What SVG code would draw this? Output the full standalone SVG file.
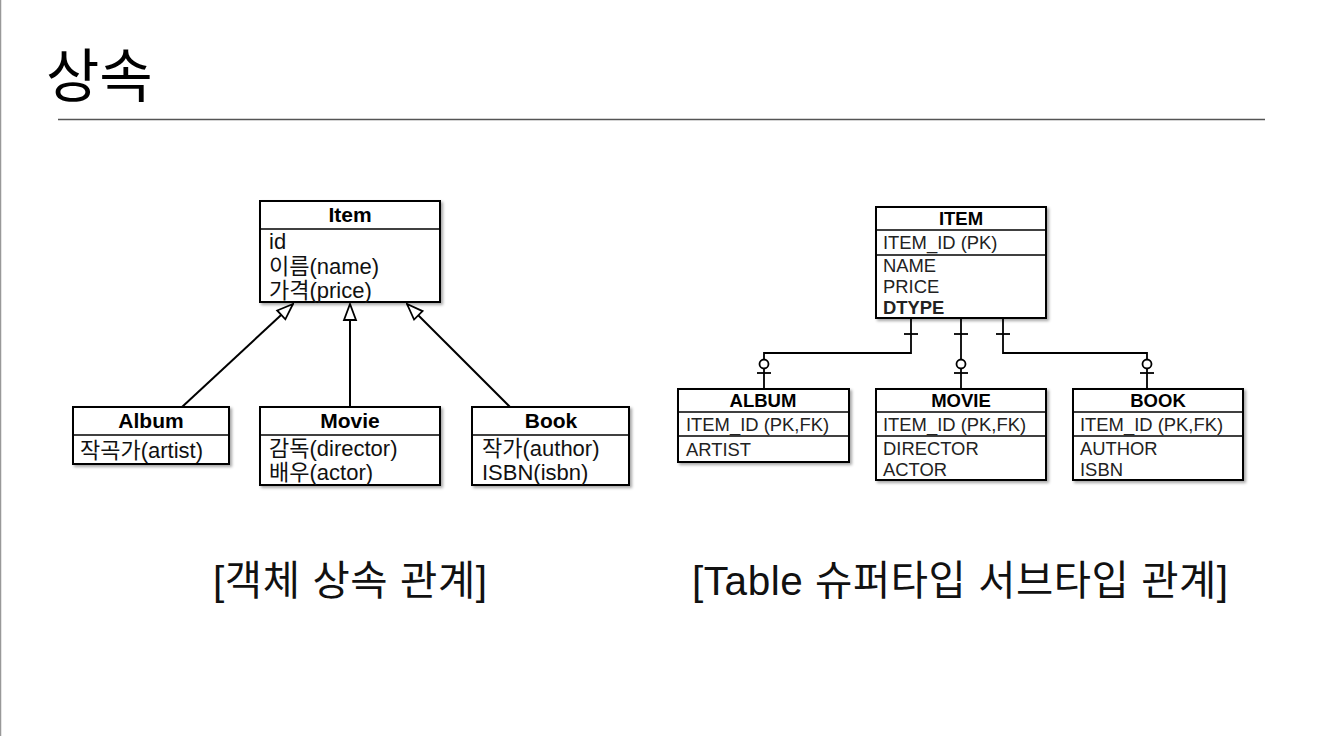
<svg xmlns="http://www.w3.org/2000/svg" width="1321" height="741" viewBox="0 0 1321 741">
<defs>
<style>
.box{fill:#fff;stroke:#000;stroke-width:2}
.div{stroke:#000;stroke-width:1.5}
.t{font-family:"Liberation Sans","Noto Sans CJK KR",sans-serif;fill:#000}
.h{font-size:21px;font-weight:bold;text-anchor:middle}
.a{font-size:22px;fill:#111}
.eh{font-size:18.5px;font-weight:bold;text-anchor:middle}
.ea{font-size:18.4px;fill:#222}
.ln{stroke:#000;stroke-width:2;fill:none}
.cap{font-family:"Liberation Sans","Noto Sans CJK KR",sans-serif;font-size:40.5px;fill:#111}
</style>
<filter id="sh" x="-10%" y="-10%" width="130%" height="130%">
<feDropShadow dx="2" dy="2" stdDeviation="1.5" flood-color="#000" flood-opacity="0.35"/>
</filter>
<marker id="tri" viewBox="0 0 20 20" refX="19" refY="10" markerWidth="20" markerHeight="20" markerUnits="userSpaceOnUse" orient="auto">
<path d="M19,10 L3,4 L3,16 Z" fill="#fff" stroke="#000" stroke-width="1.8"/>
</marker>
</defs>
<rect width="1321" height="741" fill="#fff"/>
<line x1="0.5" y1="0" x2="0.5" y2="736" stroke="#999" stroke-width="1.5"/>
<text x="46" y="97" font-family="'Noto Sans CJK KR',sans-serif" font-size="58" fill="#000">상속</text>
<line x1="58" y1="119.5" x2="1265" y2="119.5" stroke="#555" stroke-width="1.5"/>

<g id="connectors">
<line class="ln" x1="182" y1="407" x2="293" y2="304" marker-end="url(#tri)"/>
<line class="ln" x1="350" y1="407" x2="350" y2="304" marker-end="url(#tri)"/>
<line class="ln" x1="510" y1="407" x2="407" y2="304" marker-end="url(#tri)"/>
<g stroke="#000" stroke-width="1.8" fill="none">
<path d="M911,318 V353 H764 V389"/>
<path d="M961,318 V389"/>
<path d="M1003,318 V353 H1147 V389"/>
<line x1="904" y1="334" x2="918" y2="334"/>
<line x1="954" y1="334" x2="968" y2="334"/>
<line x1="996" y1="334" x2="1010" y2="334"/>
<line x1="757" y1="373" x2="771" y2="373"/>
<line x1="954" y1="373" x2="968" y2="373"/>
<line x1="1140" y1="373" x2="1154" y2="373"/>
<circle cx="764" cy="364" r="4.5" fill="#fff"/>
<circle cx="961" cy="364" r="4.5" fill="#fff"/>
<circle cx="1147" cy="364" r="4.5" fill="#fff"/>
</g>
</g>

<g id="item">
<rect class="box" x="260" y="201" width="180" height="101" filter="url(#sh)"/>
<line class="div" x1="260" y1="229" x2="440" y2="229"/>
<text class="t h" x="350" y="222">Item</text>
<text class="t a" x="269" y="249">id</text>
<text class="t a" x="269" y="274">이름(name)</text>
<text class="t a" x="269" y="298">가격(price)</text>
</g>
<g id="album">
<rect class="box" x="73" y="407" width="156" height="57" filter="url(#sh)"/>
<line class="div" x1="73" y1="435" x2="229" y2="435"/>
<text class="t h" x="151" y="428">Album</text>
<text class="t a" x="80" y="458">작곡가(artist)</text>
</g>
<g id="movie">
<rect class="box" x="260" y="407" width="180" height="78" filter="url(#sh)"/>
<line class="div" x1="260" y1="435" x2="440" y2="435"/>
<text class="t h" x="350" y="428">Movie</text>
<text class="t a" x="269" y="456">감독(director)</text>
<text class="t a" x="269" y="480">배우(actor)</text>
</g>
<g id="book">
<rect class="box" x="472" y="407" width="157" height="78" filter="url(#sh)"/>
<line class="div" x1="472" y1="435" x2="629" y2="435"/>
<text class="t h" x="551" y="428">Book</text>
<text class="t a" x="482" y="456">작가(author)</text>
<text class="t a" x="482" y="480">ISBN(isbn)</text>
</g>

<g id="ITEM">
<rect class="box" x="876" y="207" width="170" height="111" filter="url(#sh)"/>
<line class="div" x1="876" y1="230" x2="1046" y2="230"/>
<line class="div" x1="876" y1="255" x2="1046" y2="255"/>
<text class="t eh" x="961" y="225">ITEM</text>
<text class="t ea" x="883" y="249">ITEM_ID (PK)</text>
<text class="t ea" x="883" y="272">NAME</text>
<text class="t ea" x="883" y="293">PRICE</text>
<text class="t ea" x="883" y="314" font-weight="bold" fill="#000">DTYPE</text>
</g>
<g id="ALBUM">
<rect class="box" x="678" y="389" width="171" height="73" filter="url(#sh)"/>
<line class="div" x1="678" y1="412" x2="849" y2="412"/>
<line class="div" x1="678" y1="436" x2="849" y2="436"/>
<text class="t eh" x="763" y="407">ALBUM</text>
<text class="t ea" x="686" y="431">ITEM_ID (PK,FK)</text>
<text class="t ea" x="686" y="456">ARTIST</text>
</g>
<g id="MOVIE">
<rect class="box" x="876" y="389" width="170" height="91" filter="url(#sh)"/>
<line class="div" x1="876" y1="412" x2="1046" y2="412"/>
<line class="div" x1="876" y1="436" x2="1046" y2="436"/>
<text class="t eh" x="961" y="407">MOVIE</text>
<text class="t ea" x="883" y="431">ITEM_ID (PK,FK)</text>
<text class="t ea" x="883" y="455">DIRECTOR</text>
<text class="t ea" x="883" y="476">ACTOR</text>
</g>
<g id="BOOK">
<rect class="box" x="1073" y="389" width="170" height="91" filter="url(#sh)"/>
<line class="div" x1="1073" y1="412" x2="1243" y2="412"/>
<line class="div" x1="1073" y1="436" x2="1243" y2="436"/>
<text class="t eh" x="1158" y="407">BOOK</text>
<text class="t ea" x="1080" y="431">ITEM_ID (PK,FK)</text>
<text class="t ea" x="1080" y="455">AUTHOR</text>
<text class="t ea" x="1080" y="476">ISBN</text>
</g>

<text class="cap" x="213" y="595" textLength="274">[객체 상속 관계]</text>
<text class="cap" x="692" y="595" textLength="536">[Table 슈퍼타입 서브타입 관계]</text>
</svg>
